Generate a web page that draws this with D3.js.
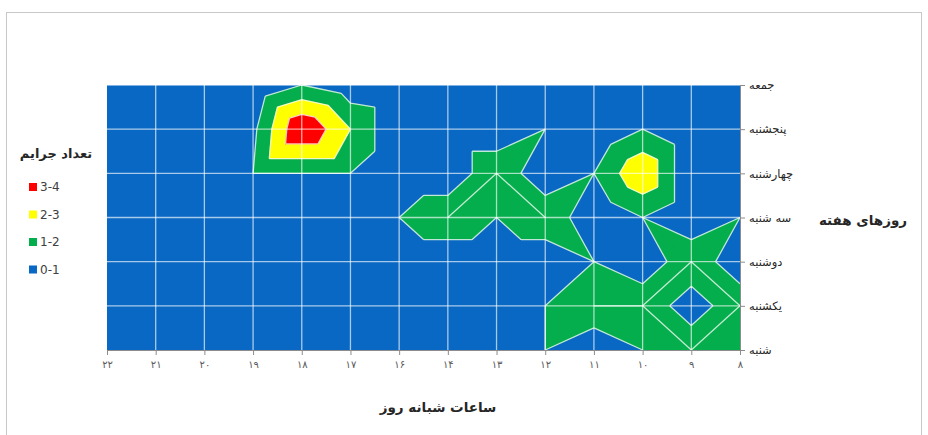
<!DOCTYPE html>
<html>
<head>
<meta charset="utf-8">
<script src="https://cdn.jsdelivr.net/npm/d3@7"></script>
<style>
body { margin: 0; background: #fff; }
text { font-family: "DejaVu Sans", sans-serif; }
</style>
</head>
<body>
<svg id="chart" width="928" height="435"></svg>
<script>
// hours of the day (x axis, note: no 15) and days of the week (y axis, bottom to top)
var hours = ["۸", "۹", "۱۰", "۱۱", "۱۲", "۱۳", "۱۴", "۱۶", "۱۷", "۱۸", "۱۹", "۲۰", "۲۱", "۲۲"];
var days = ["شنبه", "یکشنبه", "دوشنبه", "سه شنبه", "چهارشنبه", "پنجشنبه", "جمعه"];

// crime counts per day, one value per hour in the order above
var shanbe      = [1, 2,   1,   0, 1, 0, 0, 0, 0,   0, 0,    0, 0, 0];
var yekshanbe   = [2, 0.2, 2,   2, 1, 0, 0, 0, 0,   0, 0,    0, 0, 0];
var doshanbe    = [0, 2,   0,   1, 0, 0, 0, 0, 0,   0, 0,    0, 0, 0];
var seshanbe    = [1, 0,   1,   0, 2, 1, 2, 1, 0,   0, 0,    0, 0, 0];
var chaharshanbe= [0, 0,   2.9, 1, 0, 2, 0, 0, 1,   1, 1,    0, 0, 0];
var panjshanbe  = [0, 0,   1,   0, 1, 0, 0, 0, 2,   4, 0.75, 0, 0, 0];
var jome        = [0, 0,   0,   0, 0, 0, 0, 0, 0.3, 1, 0,    0, 0, 0];

var rows = [shanbe, yekshanbe, doshanbe, seshanbe, chaharshanbe, panjshanbe, jome];

// contour bands
var thresholds = [0, 1, 2, 3, 4];
var bandLabels = ["0-1", "1-2", "2-3", "3-4"];
var bandColors = ["#0868c4", "#05ae4c", "#ffff00", "#ff0000"];

var svg = d3.select("#chart");
var plot = {left: 107, right: 740, top: 85, bottom: 350};

var x = d3.scaleLinear().domain([0, hours.length - 1]).range([plot.right, plot.left]);
var y = d3.scaleLinear().domain([0, days.length - 1]).range([plot.bottom, plot.top]);

// outer frame
svg.append("rect")
    .attr("x", 6.5).attr("y", 12.5)
    .attr("width", 915).attr("height", 430)
    .attr("fill", "none")
    .attr("stroke", "#c8c8c8");

// floor of the plot = lowest band
svg.append("rect")
    .attr("x", plot.left).attr("y", plot.top)
    .attr("width", plot.right - plot.left).attr("height", plot.bottom - plot.top)
    .attr("fill", bandColors[0]);

// split every cell in two triangles, diagonal through the larger pair
var triangles = [];
for (var j = 0; j < days.length - 1; j++) {
    for (var i = 0; i < hours.length - 1; i++) {
        var a = [i, j, rows[j][i]], b = [i + 1, j, rows[j][i + 1]];
        var c = [i, j + 1, rows[j + 1][i]], d = [i + 1, j + 1, rows[j + 1][i + 1]];
        if (a[2] + d[2] >= b[2] + c[2]) {
            triangles.push([a, b, d], [a, c, d]);
        } else {
            triangles.push([a, b, c], [b, d, c]);
        }
    }
}

var clip = function (poly, t, above) {
    var out = [];
    for (var k = 0; k < poly.length; k++) {
        var p = poly[k], q = poly[(k + 1) % poly.length];
        var pin = above ? p[2] >= t : p[2] <= t;
        var qin = above ? q[2] >= t : q[2] <= t;
        if (pin) out.push(p);
        if (pin !== qin) {
            var f = (t - p[2]) / (q[2] - p[2]);
            out.push([p[0] + f * (q[0] - p[0]), p[1] + f * (q[1] - p[1]), t]);
        }
    }
    return out;
};

var px = function (p) { return [x(p[0]), y(p[1])]; };

var fills = svg.append("g");
var edgePath = "";

for (var n = 1; n < bandLabels.length; n++) {
    var lo = thresholds[n];
    var hi = n == bandLabels.length - 1 ? Infinity : thresholds[n + 1];
    var bandPath = "";
    triangles.forEach(function (tri) {
        var poly = clip(tri, lo, true);
        if (hi < Infinity) poly = clip(poly, hi, false);
        if (poly.length < 3) return;
        var pts = poly.map(px);
        if (Math.abs(d3.polygonArea(pts)) < 0.3) return;
        bandPath += "M" + pts.join("L") + "Z";
        // contour lines = polygon edges lying on a level
        for (var k = 0; k < poly.length; k++) {
            var p = poly[k], q = poly[(k + 1) % poly.length];
            var onLo = Math.abs(p[2] - lo) < 1e-9 && Math.abs(q[2] - lo) < 1e-9;
            var onHi = Math.abs(p[2] - hi) < 1e-9 && Math.abs(q[2] - hi) < 1e-9;
            if (onLo || onHi) {
                edgePath += "M" + px(p) + "L" + px(q);
            }
        }
    });
    fills.append("path")
        .attr("d", bandPath)
        .attr("fill", bandColors[n])
        .attr("stroke", bandColors[n])
        .attr("stroke-width", 0.6)
        .attr("stroke-linejoin", "round");
}

// gridlines
var grid = svg.append("g")
    .attr("stroke", "#ffffff")
    .attr("stroke-opacity", 0.65)
    .attr("stroke-width", 1.3);

grid.selectAll(".gx")
    .data(d3.range(1, hours.length - 1))
    .enter().append("line")
    .attr("x1", function (d) { return x(d); })
    .attr("x2", function (d) { return x(d); })
    .attr("y1", plot.top).attr("y2", plot.bottom);

grid.selectAll(".gy")
    .data(d3.range(1, days.length))
    .enter().append("line")
    .attr("x1", plot.left).attr("x2", plot.right)
    .attr("y1", function (d) { return y(d); })
    .attr("y2", function (d) { return y(d); });

// contour lines
svg.append("path")
    .attr("d", edgePath)
    .attr("fill", "none")
    .attr("stroke", "#ffffff")
    .attr("stroke-opacity", 0.75)
    .attr("stroke-width", 1.3);

// axes
var xAxis = svg.append("g")
    .attr("transform", "translate(0," + plot.bottom + ")")
    .call(d3.axisBottom(x)
        .tickValues(d3.range(hours.length))
        .tickFormat(function (i) { return hours[i]; })
        .tickSize(5)
        .tickPadding(6));

xAxis.selectAll("text").attr("font-size", 10).attr("fill", "#595959");

var yAxis = svg.append("g")
    .attr("transform", "translate(" + plot.right + ",0)")
    .call(d3.axisRight(y)
        .tickValues(d3.range(days.length))
        .tickFormat(function (i) { return days[i]; })
        .tickSize(5)
        .tickPadding(4));

yAxis.selectAll("text").attr("font-size", 11.5).attr("fill", "#262626");

svg.selectAll(".domain, .tick line").attr("stroke", "#8c8c8c");

// axis titles
svg.append("text")
    .attr("x", 438).attr("y", 412)
    .attr("text-anchor", "middle")
    .attr("font-size", 13.5)
    .attr("font-weight", "bold")
    .attr("fill", "#262626")
    .text("ساعات شبانه روز");

svg.append("text")
    .attr("x", 863).attr("y", 225)
    .attr("text-anchor", "middle")
    .attr("font-size", 13.5)
    .attr("font-weight", "bold")
    .attr("fill", "#262626")
    .text("روزهای هفته");

// legend
var legend = svg.append("g");

legend.append("text")
    .attr("x", 56).attr("y", 158)
    .attr("text-anchor", "middle")
    .attr("font-size", 13)
    .attr("font-weight", "bold")
    .attr("fill", "#262626")
    .text("تعداد جرایم");

var order = d3.range(bandLabels.length).reverse();
order.forEach(function (n, k) {
    var ly = 187 + k * 27.5;
    legend.append("rect")
        .attr("x", 29).attr("y", ly - 4)
        .attr("width", 8).attr("height", 8)
        .attr("fill", bandColors[n]);
    legend.append("text")
        .attr("x", 40).attr("y", ly + 4)
        .attr("font-size", 12)
        .attr("fill", "#404040")
        .text(bandLabels[n]);
});
</script>
</body>
</html>
